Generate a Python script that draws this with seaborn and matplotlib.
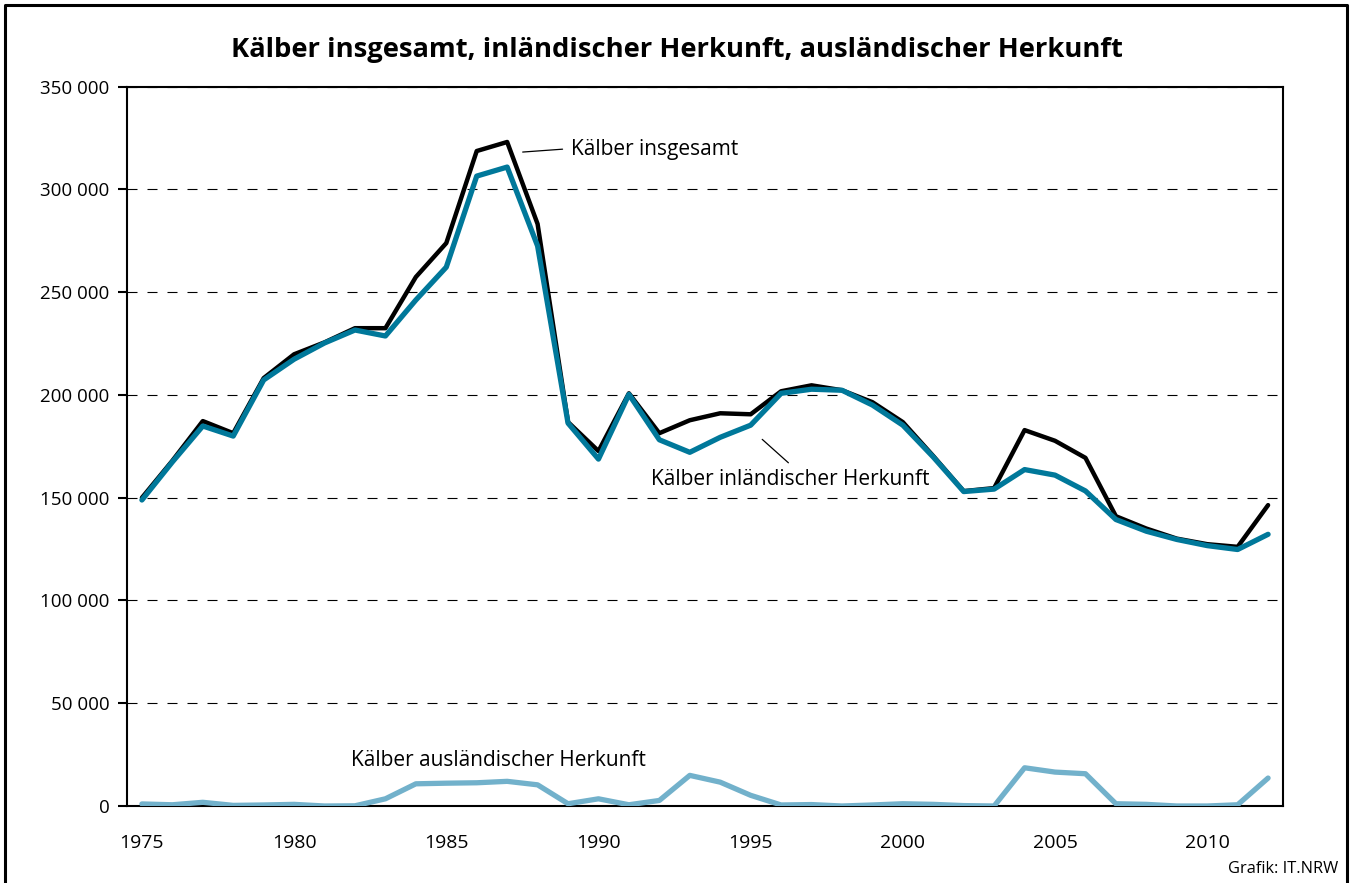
import matplotlib
matplotlib.use("Agg")
import matplotlib.pyplot as plt
import seaborn as sns
import numpy as np
import pandas as pd
from matplotlib.ticker import FuncFormatter, MultipleLocator
from matplotlib.lines import Line2D

# Daten
jahre = list(range(1975, 2013))
insgesamt = [150000, 168000, 187300, 181400, 208200, 219800, 225600, 232500, 232500, 257400,
             273900, 318700, 323100, 283200, 186800, 172700, 200800, 181400, 187700, 191100,
             190600, 201800, 204700, 202300, 196500, 186800, 170300, 153200, 154700, 182900,
             177700, 169400, 141000, 135000, 130100, 127400, 126100, 146400]
inland = [148900, 167400, 184900, 180000, 207300, 217400, 225300, 231600, 228700, 246200,
          262200, 306500, 310900, 272500, 186300, 168800, 200300, 178200, 172100, 179400,
          185300, 200800, 202800, 202300, 195100, 185300, 169800, 153000, 154200, 163700,
          161000, 153300, 139400, 133700, 129700, 126700, 124800, 132200]
ausland = [1000, 600, 1800, 300, 500, 800, 0, 100, 3500, 10800,
           11100, 11300, 12000, 10300, 1100, 3500, 600, 2700, 14900, 11600,
           5200, 500, 700, 0, 500, 1100, 800, 200, 0, 18600,
           16500, 15700, 1100, 800, 0, 0, 600, 13600]

df = pd.DataFrame({"Jahr": jahre, "insgesamt": insgesamt,
                   "inland": inland, "ausland": ausland})

sns.set_style("white")
plt.rcParams['font.family'] = ['Open Sans', 'DejaVu Sans']
plt.rcParams['text.color'] = 'black'
plt.rcParams['xtick.color'] = 'black'
plt.rcParams['ytick.color'] = 'black'
plt.rcParams['xtick.labelcolor'] = 'black'
plt.rcParams['ytick.labelcolor'] = 'black'

fig = plt.figure(figsize=(13.54, 8.83), dpi=100)
ax = fig.add_axes([126.7 / 1354, 1 - 806 / 883, (1283.3 - 126.7) / 1354, (806 - 86.7) / 883])

sns.lineplot(data=df, x="Jahr", y="insgesamt", ax=ax, color="#000000", lw=3.2, zorder=3)
sns.lineplot(data=df, x="Jahr", y="inland", ax=ax, color="#00789a", lw=3.8, zorder=4)
sns.lineplot(data=df, x="Jahr", y="ausland", ax=ax, color="#72b1cb", lw=3.8, zorder=4)

ax.set_xlim(1974.5, 2012.5)
ax.set_ylim(0, 350000)
ax.set_xlabel("")
ax.set_ylabel("")

# Achsen
for s in ax.spines.values():
    s.set_visible(True)
    s.set_color("black")
    s.set_linewidth(1.5)

ax.yaxis.set_major_locator(MultipleLocator(50000))
ax.yaxis.set_major_formatter(FuncFormatter(lambda v, p: f"{int(v):,}".replace(",", " ")))
ax.xaxis.set_major_locator(MultipleLocator(5))
ax.xaxis.set_major_formatter(FuncFormatter(lambda v, p: f"{int(v)}"))
ax.set_xticks(np.arange(1974.5, 2013, 1), minor=True)
ax.tick_params(axis="x", which="major", length=0, pad=20, labelsize=14)
ax.tick_params(axis="x", which="minor", length=6.5, width=1.5, direction="out")
ax.tick_params(axis="y", which="major", length=6.3, width=1.5, direction="out",
               pad=6, labelsize=13.5, left=True)
ax.yaxis.grid(True, color="black", lw=0.8, linestyle=(0, (9, 9)))
ax.xaxis.grid(False)

# Beschriftungen
ax.annotate("", xy=(1987.51, 318200), xytext=(1988.82, 319600),
            arrowprops=dict(arrowstyle="-", color="black", lw=0.9, shrinkA=0, shrinkB=0))
ax.text(1989.09, 319200, "Kälber insgesamt", fontsize=15, va="center", ha="left")
ax.annotate("", xy=(1995.38, 178400), xytext=(1996.24, 167000),
            arrowprops=dict(arrowstyle="-", color="black", lw=0.9, shrinkA=0, shrinkB=0))
ax.text(1991.72, 159000, "Kälber inländischer Herkunft", fontsize=15, va="center", ha="left")
ax.text(1981.86, 21900, "Kälber ausländischer Herkunft", fontsize=15, va="center", ha="left")

fig.text(0.5, 1 - 50 / 883, "Kälber insgesamt, inländischer Herkunft, ausländischer Herkunft",
         ha="center", va="center", fontsize=19.7, fontweight="bold")
fig.text(1338 / 1354, 1 - 869 / 883, "Grafik: IT.NRW", ha="right", va="center", fontsize=11.8)

# Rahmen
x0, x1, yt = 5 / 1354, 1347 / 1354, 1 - 5 / 883
fig.add_artist(Line2D([x0, x0, x1, x1], [-0.01, yt, yt, -0.01], color="black", lw=2.2,
                      transform=fig.transFigure))

fig.savefig("out.png", dpi=100)
